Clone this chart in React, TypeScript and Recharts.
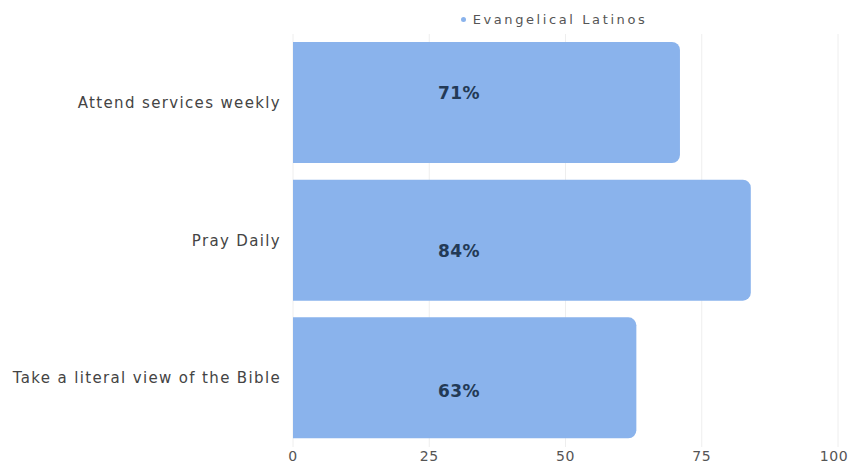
import { BarChart, Bar, XAxis, YAxis, CartesianGrid, Legend, LabelList } from "recharts"

const categories = ["Attend services weekly", "Pray Daily", "Take a literal view of the Bible"]
const evangelicalLatinos = [71, 84, 63]
const xTicks = [0, 25, 50, 75, 100]

const data = categories.map((name, i) => ({ name, value: evangelicalLatinos[i] }))

const FONT = "'DejaVu Sans', sans-serif"
const BAR_COLOR = "#8ab3ec"

// value labels sit a bit left of centre and drift up/down per row
const LABEL_NUDGE = [-10, 11, 13]

const ValueLabel = (props: any) => {
  const { x, y, height, value, index } = props
  return (
    <text
      x={x + 166}
      y={y + height / 2 + LABEL_NUDGE[index]}
      textAnchor="middle"
      dominantBaseline="central"
      fontFamily={FONT}
      fontWeight={700}
      fontSize={17}
      letterSpacing={0.5}
      fill="#233a56"
    >
      {`${value}%`}
    </text>
  )
}

// x tick; the last one is eased left so it stays inside the frame
const XTick = (props: any) => {
  const { x, y, payload, index } = props
  const last = index === xTicks.length - 1
  return (
    <text
      x={last ? x - 4 : x}
      y={y}
      dy={2}
      textAnchor="middle"
      dominantBaseline="hanging"
      fontFamily={FONT}
      fontSize={14}
      letterSpacing={0.6}
      fill="#555"
    >
      {payload.value}
    </text>
  )
}

const LegendContent = () => (
  <div
    style={{
      display: "flex",
      alignItems: "center",
      justifyContent: "center",
      paddingLeft: 270,
      paddingTop: 12,
      fontFamily: FONT,
      fontSize: 13,
      letterSpacing: 2.6,
      color: "#555",
    }}
  >
    <span
      style={{
        display: "inline-block",
        width: 5,
        height: 5,
        borderRadius: "50%",
        background: BAR_COLOR,
        marginRight: 7,
      }}
    />
    Evangelical Latinos
  </div>
)

export default function App() {
  // pull the chart over the body margin so it fills the whole page
  return (
    <div style={{ margin: -8 }}>
      <BarChart
        width={858}
        height={472}
        data={data}
        layout="vertical"
        margin={{ top: 0, right: 20, bottom: 0, left: 0 }}
        barSize={121}
      >
        <CartesianGrid horizontal={false} stroke="#eeeeee" />
        <XAxis
          type="number"
          domain={[0, 100]}
          ticks={xTicks}
          axisLine={false}
          tickLine={false}
          tickSize={0}
          height={25}
          tick={XTick}
        />
        <YAxis
          type="category"
          dataKey="name"
          width={293}
          axisLine={false}
          tickLine={false}
          tickSize={0}
          tickMargin={12}
          tick={{ fontSize: 15, fill: "#444", fontFamily: FONT, letterSpacing: 1.35 }}
        />
        <Legend verticalAlign="top" height={34} content={LegendContent} />
        <Bar
          dataKey="value"
          name="Evangelical Latinos"
          fill={BAR_COLOR}
          radius={[0, 8, 8, 0]}
          isAnimationActive={false}
        >
          <LabelList dataKey="value" content={ValueLabel} />
        </Bar>
      </BarChart>
    </div>
  )
}
